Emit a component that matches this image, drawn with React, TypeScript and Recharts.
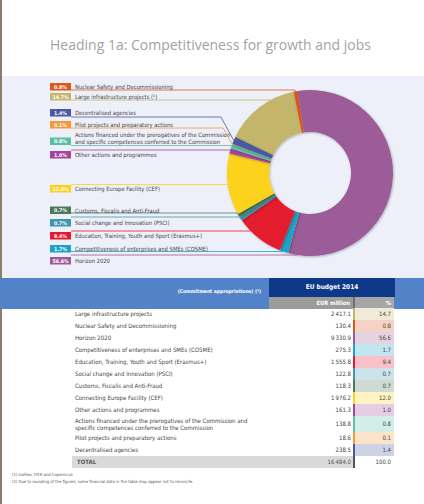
import React from "react";
import { PieChart, Pie, Cell } from "recharts";

// table order (also the order the slices run clockwise, starting at Large infrastructure)
const tableLabels = [
  ["Large infrastructure projects"],
  ["Nuclear Safety and Decommissioning"],
  ["Horizon 2020"],
  ["Competitiveness of enterprises and SMEs (COSME)"],
  ["Education, Training, Youth and Sport (Erasmus+)"],
  ["Social change and Innovation (PSCI)"],
  ["Customs, Fiscalis and Anti-Fraud"],
  ["Connecting Europe Facility (CEF)"],
  ["Other actions and programmes"],
  ["Actions financed under the prerogatives of the Commission and", "specific competences conferred to the Commission"],
  ["Pilot projects and preparatory actions"],
  ["Decentralised agencies"],
];

const legendLabels = [
  ["Large infrastructure projects (\u00b9)"],
  ["Nuclear Safety and Decommissioning"],
  ["Horizon 2020"],
  ["Competitiveness of enterprises and SMEs (COSME)"],
  ["Education, Training, Youth and Sport (Erasmus+)"],
  ["Social change and Innovation (PSCI)"],
  ["Customs, Fiscalis and Anti-Fraud"],
  ["Connecting Europe Facility (CEF)"],
  ["Other actions and programmes"],
  ["Actions financed under the prerogatives of the Commission", "and specific competences conferred to the Commission"],
  ["Pilot projects and preparatory actions"],
  ["Decentralised agencies"],
];

const eurMillion = [2417.1, 130.4, 9330.9, 275.3, 1555.8, 122.8, 118.3, 1976.2, 161.3, 138.8, 18.6, 238.5];
const sharePct = [14.7, 0.8, 56.6, 1.7, 9.4, 0.7, 0.7, 12.0, 1.0, 0.8, 0.1, 1.4];
const totalEur = 16484.0;
const totalPct = 100.0;

const colors = [
  "#c3b66b", "#d9591f", "#9b5b97", "#1aa3c6", "#e31b2e", "#3f97ad",
  "#4c7a58", "#fdd21e", "#a4459c", "#5cbfa5", "#f4983a", "#4a589f",
];

// layout of the left-hand legend (page y of box top and of the leader line)
const boxTop = [93, 83, 257, 245, 232, 219, 206.5, 185, 151, 137.5, 121, 109];
const lineY = [100, 90, 255, 251.5, 231, 217, 213, 184.5, 150, 145.5, 128, 117];

const FONT = "'Liberation Sans Narrow', 'DejaVu Sans Condensed', Roboto, sans-serif";
const TOP = 76;
const BOX_X = 50;
const BOX_W = 21;
const BOX_H = 7.5;
const RAD = Math.PI / 180;

const pieData = eurMillion.map((v, i) => ({ name: tableLabels[i].join(" "), value: v }));

const fmt = (v: number) => {
  const [a, b] = v.toFixed(1).split(".");
  return a.replace(/\B(?=(\d{3})+(?!\d))/g, "\u2009") + "." + b;
};

const tint = (hex: string, k = 0.27) => {
  const n = parseInt(hex.slice(1), 16);
  const c = [(n >> 16) & 255, (n >> 8) & 255, n & 255].map(x => Math.round(255 - (255 - x) * k));
  return `rgb(${c[0]},${c[1]},${c[2]})`;
};

function renderLabel(p: any) {
  const i = p.index;
  const color = colors[i];
  const ly = lineY[i] - TOP;
  const by = boxTop[i] - TOP;
  const r = p.outerRadius;
  const lo = Math.min(p.startAngle, p.endAngle);
  const hi = Math.max(p.startAngle, p.endAngle);
  const dy = ly - p.cy;
  let pts = "";
  let hit = false;
  if (Math.abs(dy) < r) {
    const dx = Math.sqrt(r * r - dy * dy);
    const a = Math.atan2(-dy, -dx) / RAD;
    for (const k of [-360, 0, 360]) if (a + k >= lo && a + k <= hi) hit = true;
    if (hit) pts = `${BOX_X + BOX_W},${ly} ${p.cx - dx},${ly}`;
  }
  if (!hit) {
    const px = p.cx + r * Math.cos(-p.midAngle * RAD);
    const py = p.cy + r * Math.sin(-p.midAngle * RAD);
    const knee = px - Math.abs(py - ly) * 0.55;
    pts = `${BOX_X + BOX_W},${ly} ${knee},${ly} ${px},${py}`;
  }
  const lines = legendLabels[i];
  const textY0 = lines.length > 1 ? by - 0.5 : by + 6;
  return (
    <g key={`lab-${i}`}>
      <polyline points={pts} fill="none" stroke={color} strokeWidth={0.8} />
      <rect x={BOX_X} y={by} width={BOX_W} height={BOX_H} fill={color} />
      <text x={BOX_X + BOX_W / 2} y={by + 5.6} textAnchor="middle" fill="#fff" fontSize={5.2} fontWeight="bold" fontFamily={FONT}>
        {sharePct[i].toFixed(1)}%
      </text>
      {lines.map((t, j) => (
        <text key={j} x={75} y={textY0 + j * 7} fill="#444" fontSize={5.8} fontFamily={FONT}>
          {t}
        </text>
      ))}
    </g>
  );
}

const rowTop = [308, 320, 332, 344, 356, 368, 380, 392, 404, 416, 432, 444];
const rowH = [12, 12, 12, 12, 12, 12, 12, 12, 12, 16, 12, 12];

export default function App() {
  return (
    <div style={{ width: 424, height: 504, position: "relative", background: "#fff", fontFamily: FONT, overflow: "hidden" }}>
      <style>{`body{margin:0}`}</style>
      <div style={{ position: "absolute", left: 0, top: 0, width: 2, height: 504, background: "#8d7c69" }} />
      <div style={{ position: "absolute", left: 50, top: 35, fontFamily: "'Open Sans', sans-serif", fontSize: 14, color: "#a3a3a3", whiteSpace: "nowrap" }}>
        Heading 1a: Competitiveness for growth and jobs
      </div>

      <div style={{ position: "absolute", left: 2, top: TOP, width: 422, height: 202, background: "#eef0f9" }} />
      <div style={{ position: "absolute", left: 0, top: TOP }}>
        <PieChart width={424} height={202} margin={{ top: 0, right: 0, bottom: 0, left: 0 }}>
          <defs>
            <filter id="donutShade" x="-10%" y="-10%" width="120%" height="120%">
              <feDropShadow dx="0.8" dy="0.8" stdDeviation="0.9" floodColor="#000" floodOpacity="0.3" />
            </filter>
          </defs>
          <Pie
            data={pieData}
            dataKey="value"
            cx={310}
            cy={97}
            innerRadius={41}
            outerRadius={83}
            startAngle={154.2}
            endAngle={-205.8}
            stroke="none"
            label={renderLabel}
            labelLine={false}
            isAnimationActive={false}
          >
            {pieData.map((d, i) => (
              <Cell key={d.name} fill={colors[i]} filter="url(#donutShade)" />
            ))}
          </Pie>
        </PieChart>
      </div>

      {/* table header */}
      <div style={{ position: "absolute", left: 0, top: 278, width: 424, height: 31, background: "#5283c9" }} />
      <div style={{ position: "absolute", left: 269, top: 278, width: 126, height: 19, background: "#0e3888", color: "#fff", fontSize: 6.5, fontWeight: "bold", textAlign: "center", lineHeight: "19px" }}>
        EU budget 2014
      </div>
      <div style={{ position: "absolute", left: 120, top: 288, width: 141, textAlign: "right", color: "#fff", fontSize: 5, fontWeight: "bold" }}>
        (Commitment appropriations) (²)
      </div>
      <div style={{ position: "absolute", left: 269, top: 297, width: 84, height: 12, background: "#9b9b9b", color: "#fff", fontSize: 5.8, fontWeight: "bold", textAlign: "right", lineHeight: "12px", paddingRight: 3, boxSizing: "border-box" }}>
        EUR million
      </div>
      <div style={{ position: "absolute", left: 353, top: 297, width: 2, height: 12, background: "#6f6f6f" }} />
      <div style={{ position: "absolute", left: 355, top: 297, width: 39, height: 12, background: "#a6a6a6", color: "#fff", fontSize: 5.8, fontWeight: "bold", textAlign: "right", lineHeight: "12px", paddingRight: 3, boxSizing: "border-box" }}>
        %
      </div>

      {/* table rows */}
      {tableLabels.map((lines, i) => (
        <React.Fragment key={i}>
          <div style={{ position: "absolute", left: 75, top: rowTop[i], height: rowH[i], display: "flex", flexDirection: "column", justifyContent: "center", color: "#444", fontSize: 6, lineHeight: "7.5px", whiteSpace: "nowrap" }}>
            {lines.map((t, j) => <div key={j}>{t}</div>)}
          </div>
          <div style={{ position: "absolute", left: 290, width: 61, top: rowTop[i], height: rowH[i], lineHeight: `${rowH[i]}px`, textAlign: "right", color: "#444", fontSize: 6 }}>
            {fmt(eurMillion[i])}
          </div>
          <div style={{ position: "absolute", left: 353, width: 2, top: rowTop[i], height: rowH[i], background: colors[i] }} />
          <div style={{ position: "absolute", left: 355, width: 39, top: rowTop[i], height: rowH[i], background: tint(colors[i]), lineHeight: `${rowH[i]}px`, textAlign: "right", paddingRight: 3, boxSizing: "border-box", color: "#444", fontSize: 6 }}>
            {sharePct[i].toFixed(1)}
          </div>
        </React.Fragment>
      ))}
      <div style={{ position: "absolute", left: 72, top: 456, width: 281, height: 12, background: "#d9d9d9" }} />
      <div style={{ position: "absolute", left: 77, top: 456, height: 12, lineHeight: "12px", color: "#555", fontSize: 6, fontWeight: "bold" }}>TOTAL</div>
      <div style={{ position: "absolute", left: 290, width: 61, top: 456, height: 12, lineHeight: "12px", textAlign: "right", color: "#555", fontSize: 6 }}>{fmt(totalEur)}</div>
      <div style={{ position: "absolute", left: 353, width: 2, top: 456, height: 12, background: "#555" }} />
      <div style={{ position: "absolute", left: 355, width: 39, top: 456, height: 12, lineHeight: "12px", textAlign: "right", paddingRight: 3, boxSizing: "border-box", color: "#444", fontSize: 6 }}>{totalPct.toFixed(1)}</div>

      <div style={{ position: "absolute", left: 12, top: 472, color: "#555", fontSize: 4.2, lineHeight: "6.5px", whiteSpace: "nowrap" }}>
        <div>(1) Galileo, ITER and Copernicus</div>
        <div>(2) Due to rounding of the figures, some financial data in the table may appear not to reconcile.</div>
      </div>
    </div>
  );
}
